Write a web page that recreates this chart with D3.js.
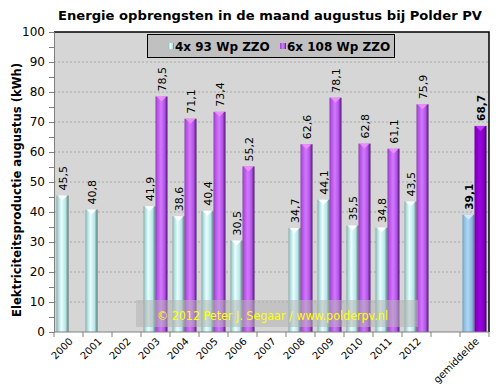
<!DOCTYPE html>
<html><head><meta charset="utf-8">
<script src="https://cdn.jsdelivr.net/npm/d3@7/dist/d3.min.js"></script>
<style>body{margin:0;background:#fff;}svg{display:block;font-family:"DejaVu Sans",Verdana,sans-serif;}</style>
</head><body>
<svg id="c" width="501" height="390"></svg>
<script>
const categories = ["2000","2001","2002","2003","2004","2005","2006","2007","2008","2009","2010","2011","2012","","gemiddelde"];
const series1 = [45.5,40.8,null,41.9,38.6,40.4,30.5,null,34.7,44.1,35.5,34.8,43.5,null,39.1];
const series2 = [null,null,null,78.5,71.1,73.4,55.2,null,62.6,78.1,62.8,61.1,75.9,null,68.7];
const seriesNames = ["4x 93 Wp ZZO","6x 108 Wp ZZO"];
const yTicks = [0,10,20,30,40,50,60,70,80,90,100];

const svg = d3.select("#c");
const L=54,R=489,T=32,B=332;
const x = d3.scaleBand().domain(categories.map((d,i)=>i)).range([L,R]);
const y = d3.scaleLinear().domain([0,100]).range([B,T]);

const defs = svg.append("defs");
function grad(id, stops){
  const g = defs.append("linearGradient").attr("id",id).attr("x1","0").attr("x2","1").attr("y1","0").attr("y2","0");
  stops.forEach(s=>g.append("stop").attr("offset",s[0]).attr("stop-color",s[1]));
}
grad("gc",[[0,"#7fa9a9"],[0.12,"#a8d4d4"],[0.4,"#e8ffff"],[0.75,"#b8e6e6"],[0.9,"#7fa9a9"],[1,"#4d6b6b"]]);
grad("gp",[[0,"#8a3ab0"],[0.12,"#b04fe0"],[0.45,"#d478ff"],[0.75,"#b355e6"],[0.9,"#7a2ea6"],[1,"#4a1a66"]]);
grad("gb",[[0,"#6f9cc4"],[0.15,"#8fbde0"],[0.45,"#b0d8f5"],[0.8,"#8ab6da"],[1,"#50789c"]]);
grad("gd",[[0,"#6a00a0"],[0.15,"#8400c4"],[0.45,"#a000e6"],[0.8,"#7e00bc"],[1,"#3a005a"]]);

svg.append("rect").attr("x",L).attr("y",T).attr("width",R-L).attr("height",B-T).attr("fill","#d6d6d6");
svg.append("g").selectAll("line").data(yTicks.filter(d=>d>0&&d<100)).join("line")
  .attr("x1",L).attr("x2",R).attr("y1",d=>y(d)).attr("y2",d=>y(d))
  .attr("stroke","#a8a8a8").attr("stroke-dasharray","2,2");

const bw = 12, gap = 2.5;
function drawSeries(vals, idx){
  const g = svg.append("g");
  vals.forEach((v,i)=>{
    if(v==null) return;
    const isAvg = categories[i]==="gemiddelde";
    const x0 = x(i)+gap + idx*bw;
    const fill = isAvg ? (idx===0?"url(#gb)":"url(#gd)") : (idx===0?"url(#gc)":"url(#gp)");
    g.append("rect").attr("x",x0).attr("y",y(v)).attr("width",bw).attr("height",B-y(v)).attr("fill",fill);
    const tc = isAvg ? (idx===0?"#d8ecfa":"#c040ff") : (idx===0?"#ffffff":"#f090ff");
    g.append("path").attr("d",`M${x0+1},${y(v)}L${x0+bw-1},${y(v)}L${x0+bw/2},${y(v)+5}Z`).attr("fill",tc).attr("opacity",0.9);
    const cx = x0+bw/2;
    g.append("text").attr("transform",`translate(${cx+4},${y(v)-5}) rotate(-90)`)
      .attr("font-size",isAvg?10.5:11).attr("font-weight",isAvg?"bold":"normal").attr("fill","#000")
      .text(String(v.toFixed(1)).replace(".",","));
  });
}
drawSeries(series1,0);
drawSeries(series2,1);

svg.append("path").attr("d",`M${L},${T}H${R}V${B}`).attr("fill","none").attr("stroke","#000").attr("stroke-width",1.5);

const yAxis = d3.axisLeft(y).tickValues(d3.range(0,101,5)).tickSize(5).tickFormat(d=>d%10===0?d:"");
const ya = svg.append("g").attr("transform",`translate(${L},0)`).call(yAxis);
ya.select(".domain").attr("stroke","#808080");
ya.selectAll(".tick line").attr("stroke","#808080");
ya.selectAll("text").attr("font-size",12).attr("fill","#000").attr("font-family","DejaVu Sans, Verdana, sans-serif").attr("x",-9);

const xa = svg.append("g").attr("transform",`translate(0,${B})`);
xa.append("line").attr("x1",L).attr("x2",R).attr("stroke","#808080");
xa.selectAll("line.t").data(d3.range(categories.length+1)).join("line").attr("class","t")
  .attr("x1",d=>L+d*x.bandwidth()).attr("x2",d=>L+d*x.bandwidth()).attr("y1",0).attr("y2",5).attr("stroke","#808080");
xa.selectAll("text").data(categories).join("text")
  .attr("transform",(d,i)=>`translate(${x(i)+x.bandwidth()/2+5},${10}) rotate(-45)`)
  .attr("text-anchor","end").attr("font-size",10).attr("fill","#000").text(d=>d);

svg.append("text").attr("x",270).attr("y",20).attr("text-anchor","middle").attr("font-size",13).attr("font-weight","bold")
  .attr("textLength",424).attr("lengthAdjust","spacingAndGlyphs").text("Energie opbrengsten in de maand augustus bij Polder PV");

svg.append("text").attr("transform","translate(21,190) rotate(-90)").attr("text-anchor","middle").attr("font-size",11.5).attr("font-weight","bold")
  .attr("textLength",254).attr("lengthAdjust","spacingAndGlyphs")
  .text("Elektriciteitsproductie augustus (kWh)");

const lg = svg.append("g");
lg.append("rect").attr("x",147.5).attr("y",34.5).attr("width",247).attr("height",23).attr("fill","#c0c0c0").attr("stroke","#000");
const lx=[168,280];
seriesNames.forEach((n,i)=>{
  lg.append("rect").attr("x",lx[i]).attr("y",43).attr("width",6).attr("height",6).attr("fill",i===0?"url(#gc)":"url(#gp)");
  lg.append("text").attr("x",lx[i]+7).attr("y",51).attr("font-size",12).attr("font-weight","bold").text(n);
});

svg.append("rect").attr("x",136).attr("y",300).attr("width",282).attr("height",27).attr("fill","#b4b4b4").attr("opacity",0.55);
svg.append("text").attr("x",157).attr("y",320).attr("font-size",12).attr("fill","#ffff00")
  .attr("textLength",231).attr("lengthAdjust","spacingAndGlyphs").text("© 2012 Peter J. Segaar / www.polderpv.nl");
</script>
</body></html>
